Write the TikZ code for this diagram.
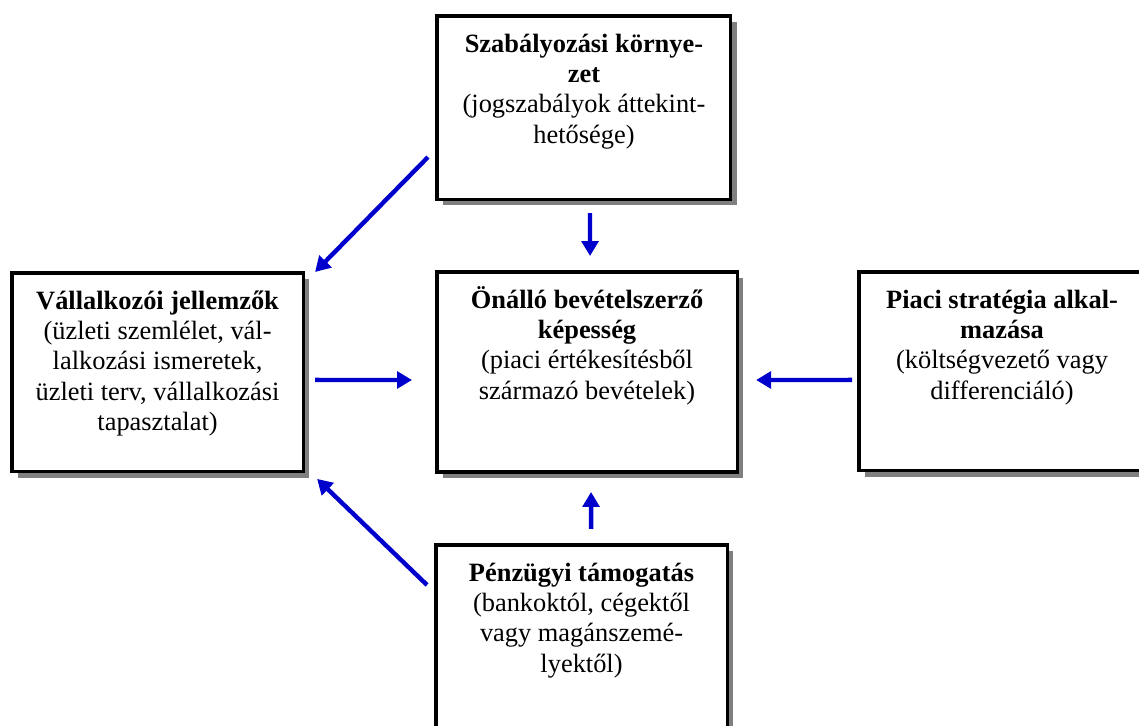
\documentclass[tikz,border=0pt]{standalone}
\usepackage{fontspec}
\setmainfont{Liberation Serif}
\usetikzlibrary{arrows.meta,shadows}
\definecolor{nyilkek}{RGB}{0,0,204}
\newcommand{\dobozszoveg}[3]{\parbox[t][#1][t]{#2}{\centering\rule{0pt}{16.4pt}#3}}

\begin{document}
\begin{tikzpicture}[x=0.4545pt, y=-0.4545pt,
		doboz/.style={draw, line width=1.4pt, fill=white, inner sep=0pt, outer sep=0pt, anchor=north west,
			font=\fontsize{12}{13.8}\selectfont,
			drop shadow={shadow xshift=2.7pt, shadow yshift=-2.7pt, fill=black!50, opacity=1}},
		nyil/.style={draw=nyilkek, line width=2pt, -{Triangle[length=6.8pt, width=7.6pt]}}]
		\useasboundingbox (0,0) rectangle (1139,726);
		\clip (0,0) rectangle (1139,726);
		\node[doboz] (szab) at (437,16) {\dobozszoveg{83.2pt}{133.6pt}{\textbf{Szabályozási környe-}\\\textbf{zet}\\(jogszabályok áttekint-\\hetősége)}};
		\node[doboz] (onallo) at (437,272) {\dobozszoveg{90.9pt}{136.4pt}{\textbf{Önálló bevételszerző}\\\textbf{képesség}\\(piaci értékesítésből\\származó bevételek)}};
		\node[doboz] (vall) at (12,273) {\dobozszoveg{90.4pt}{132.3pt}{\textbf{Vállalkozói jellemzők}\\(üzleti szemlélet, vál-\\lalkozási ismeretek,\\üzleti terv, vállalkozási\\tapasztalat)}};
		\node[doboz] (piaci) at (859,272) {\dobozszoveg{90.4pt}{130pt}{\textbf{Piaci stratégia alkal-}\\\textbf{mazása}\\(költségvezető vagy\\differenciáló)}};
		\node[doboz] (penz) at (436,545) {\dobozszoveg{90.9pt}{132.3pt}{\textbf{Pénzügyi támogatás}\\(bankoktól, cégektől\\vagy magánszemé-\\lyektől)}};
		% Arrows
		\draw[nyil] ([shift={(-9,-42)}]szab.south west) -- ([shift={(12,-1)}]vall.north east);
		\draw[nyil] ([shift={(6,14)}]szab.south) -- ([shift={(3,-16)}]onallo.north);
		\draw[nyil] ([shift={(12,7.5)}]vall.east) -- ([shift={(-25,8)}]onallo.west);
		\draw[nyil] ([shift={(-7,8.5)}]piaci.west) -- ([shift={(19,8)}]onallo.east);
		\draw[nyil] ([shift={(9.5,-16)}]penz.north) -- ([shift={(4,20)}]onallo.south);
		\draw[nyil] ([shift={(-9,40)}]penz.north west) -- ([shift={(14,7)}]vall.south east);
	\end{tikzpicture}
\end{document}
